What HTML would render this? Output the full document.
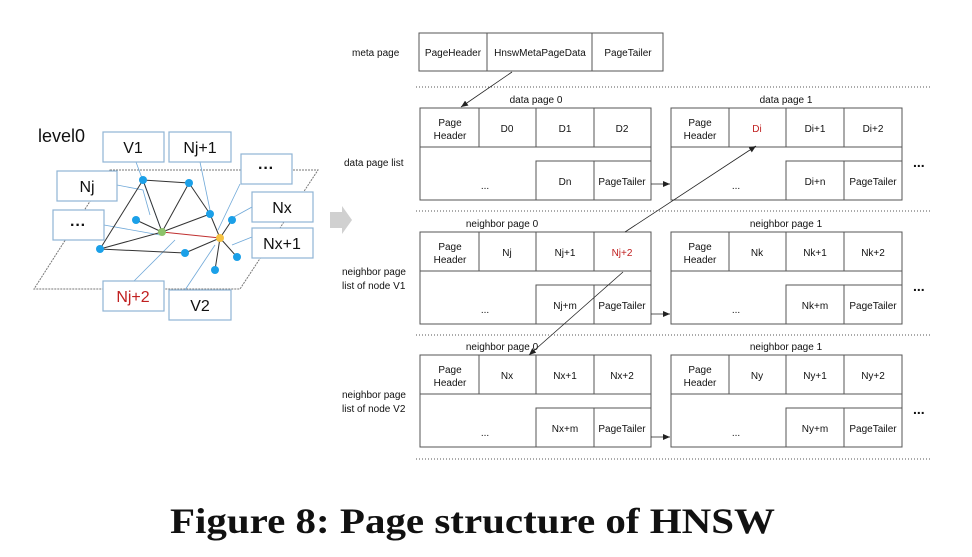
<!DOCTYPE html>
<html><head><meta charset="utf-8"><style>
body{margin:0;background:#fff}
</style></head><body>
<svg width="972" height="552" viewBox="0 0 972 552" xmlns="http://www.w3.org/2000/svg" font-family="Liberation Sans, sans-serif">
<defs><marker id="a" markerWidth="8" markerHeight="8" refX="7" refY="4" orient="auto" markerUnits="userSpaceOnUse"><path d="M0,1 L7,4 L0,7z" fill="#222"/></marker></defs>
<text x="38" y="142" font-size="18" fill="#111">level0</text>
<path d="M110,170 L318,170 L240,289 L34,289 Z" fill="none" stroke="#777" stroke-width="1" stroke-dasharray="2,1"/>
<g stroke="#6fa8d8" stroke-width="0.8" fill="none">
<path d="M136,162 L162,232"/><path d="M200,162 L210,210"/><path d="M117,185 L143,190 L150,215"/><path d="M104,225 L160,235"/>
<path d="M240,184 L218,230"/><path d="M252,207 L232,218"/><path d="M252,237 L232,245"/><path d="M134,281 L175,240"/><path d="M185,290 L215,245"/>
</g>
<g stroke="#333" stroke-width="1" fill="none">
<path d="M143,180 L189,183 M143,180 L100,249 M143,180 L162,232 M189,183 L162,232 M189,183 L210,214 M210,214 L220,238 M136,220 L162,232 M162,232 L210,214 M100,249 L162,232 M100,249 L185,253 M185,253 L220,238 M220,238 L232,220 M220,238 L237,257 M220,238 L215,270"/>
</g>
<path d="M162,232 L220,238" stroke="#c03030" stroke-width="1"/>
<g fill="#1ba0e8"><circle cx="143" cy="180" r="4"/><circle cx="189" cy="183" r="4"/><circle cx="210" cy="214" r="4"/><circle cx="136" cy="220" r="4"/><circle cx="100" cy="249" r="4"/><circle cx="185" cy="253" r="4"/><circle cx="232" cy="220" r="4"/><circle cx="237" cy="257" r="4"/><circle cx="215" cy="270" r="4"/></g>
<circle cx="162" cy="232" r="4" fill="#8dc36b"/><circle cx="220" cy="238" r="4" fill="#f5c242"/>
<g fill="#fff" stroke="#8fb4d4" stroke-width="1.2">
<rect x="103" y="132" width="61" height="30"/><rect x="169" y="132" width="62" height="30"/><rect x="241" y="154" width="51" height="30"/>
<rect x="57" y="171" width="60" height="30"/><rect x="53" y="210" width="51" height="30"/><rect x="252" y="192" width="61" height="30"/>
<rect x="252" y="228" width="61" height="30"/><rect x="103" y="281" width="61" height="30"/><rect x="169" y="290" width="62" height="30"/>
</g>
<g font-size="16" fill="#111" text-anchor="middle">
<text x="133" y="153">V1</text><text x="200" y="153">Nj+1</text><text x="266" y="173" font-weight="bold">···</text>
<text x="87" y="192">Nj</text><text x="78" y="230" font-weight="bold">···</text><text x="282" y="213">Nx</text>
<text x="282" y="249">Nx+1</text><text x="133" y="302" fill="#c02020">Nj+2</text><text x="200" y="311">V2</text>
</g>
<path d="M330,212 L342,212 L342,206 L352,220 L342,234 L342,228 L330,228 Z" fill="#d0d0d0"/>
<g font-size="10" fill="#111">
<text x="352" y="56">meta page</text>
<text x="344" y="166">data page list</text>
<text x="342" y="275">neighbor page</text><text x="342" y="289">list of node V1</text>
<text x="342" y="398">neighbor page</text><text x="342" y="412">list of node V2</text>
</g>
<g stroke="#555" stroke-width="1" fill="none">
<rect x="419" y="33" width="244" height="38"/><path d="M487,33 V71 M592,33 V71"/>
</g>
<g font-size="10" fill="#111" text-anchor="middle">
<text x="453" y="56">PageHeader</text><text x="540" y="56">HnswMetaPageData</text><text x="628" y="56">PageTailer</text>
</g>
<g stroke="#555" stroke-width="1" stroke-dasharray="1,2">
<path d="M416,87 H930 M416,211 H930 M416,335 H930 M416,459 H930"/>
</g>
<g font-size="10" fill="#111" text-anchor="middle">
<text x="536" y="103">data page 0</text><text x="786" y="103">data page 1</text>
<text x="502" y="227">neighbor page 0</text><text x="786" y="227">neighbor page 1</text>
<text x="502" y="350">neighbor page 0</text><text x="786" y="350">neighbor page 1</text>
</g>
<g stroke="#555" stroke-width="1" fill="none">
<rect x="420" y="108" width="231" height="92"/><path d="M420,147 H651 M479,108 V147 M536,108 V147 M594,108 V147 M536,200 V161 H651 M594,161 V200"/>
<rect x="671" y="108" width="231" height="92"/><path d="M671,147 H902 M729,108 V147 M786,108 V147 M844,108 V147 M786,200 V161 H902 M844,161 V200"/>
<rect x="420" y="232" width="231" height="92"/><path d="M420,271 H651 M479,232 V271 M536,232 V271 M594,232 V271 M536,324 V285 H651 M594,285 V324"/>
<rect x="671" y="232" width="231" height="92"/><path d="M671,271 H902 M729,232 V271 M786,232 V271 M844,232 V271 M786,324 V285 H902 M844,285 V324"/>
<rect x="420" y="355" width="231" height="92"/><path d="M420,394 H651 M479,355 V394 M536,355 V394 M594,355 V394 M536,447 V408 H651 M594,408 V447"/>
<rect x="671" y="355" width="231" height="92"/><path d="M671,394 H902 M729,355 V394 M786,355 V394 M844,355 V394 M786,447 V408 H902 M844,408 V447"/>
</g>
<g font-size="10" fill="#111" text-anchor="middle">
<text x="450" y="126">Page</text><text x="450" y="139">Header</text><text x="507" y="132">D0</text><text x="565" y="132">D1</text><text x="622" y="132">D2</text>
<text x="485" y="189">...</text><text x="565" y="185">Dn</text><text x="622" y="185">PageTailer</text>
<text x="700" y="126">Page</text><text x="700" y="139">Header</text><text x="757" y="132" fill="#c02020">Di</text><text x="815" y="132">Di+1</text><text x="873" y="132">Di+2</text>
<text x="736" y="189">...</text><text x="815" y="185">Di+n</text><text x="873" y="185">PageTailer</text>
<text x="450" y="250">Page</text><text x="450" y="263">Header</text><text x="507" y="256">Nj</text><text x="565" y="256">Nj+1</text><text x="622" y="256" fill="#c02020">Nj+2</text>
<text x="485" y="313">...</text><text x="565" y="309">Nj+m</text><text x="622" y="309">PageTailer</text>
<text x="700" y="250">Page</text><text x="700" y="263">Header</text><text x="757" y="256">Nk</text><text x="815" y="256">Nk+1</text><text x="873" y="256">Nk+2</text>
<text x="736" y="313">...</text><text x="815" y="309">Nk+m</text><text x="873" y="309">PageTailer</text>
<text x="450" y="373">Page</text><text x="450" y="386">Header</text><text x="507" y="379">Nx</text><text x="565" y="379">Nx+1</text><text x="622" y="379">Nx+2</text>
<text x="485" y="436">...</text><text x="565" y="432">Nx+m</text><text x="622" y="432">PageTailer</text>
<text x="700" y="373">Page</text><text x="700" y="386">Header</text><text x="757" y="379">Ny</text><text x="815" y="379">Ny+1</text><text x="873" y="379">Ny+2</text>
<text x="736" y="436">...</text><text x="815" y="432">Ny+m</text><text x="873" y="432">PageTailer</text>
</g>
<g font-size="14" font-weight="bold" fill="#111"><text x="913" y="167">...</text><text x="913" y="291">...</text><text x="913" y="414">...</text></g>
<g stroke="#222" stroke-width="0.8" fill="none" marker-end="url(#a)">
<path d="M512,72 L461,107"/><path d="M651,184 H670"/><path d="M651,314 H670"/><path d="M651,437 H670"/>
<path d="M625,232 L756,146"/><path d="M623,272 L529,355"/>
</g>
<text x="170" y="533" style="font-family:'Liberation Serif',serif" font-size="36" font-weight="bold" textLength="605" lengthAdjust="spacingAndGlyphs" fill="#111">Figure 8: Page structure of HNSW</text>
</svg>
</body></html>
